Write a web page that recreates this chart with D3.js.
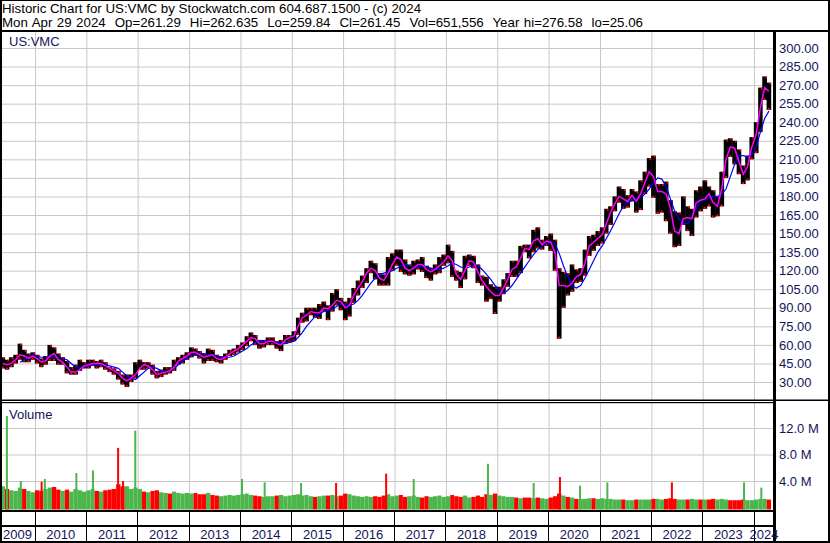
<!DOCTYPE html>
<html><head><meta charset="utf-8">
<script src="https://cdn.jsdelivr.net/npm/d3@7"></script>
<style>
html,body{margin:0;padding:0;background:#fff;}
svg{display:block;font-family:"Liberation Sans",Arial,sans-serif;}
text{white-space:pre;}
</style></head><body>
<svg id="c" width="830" height="543"></svg>
<script>
// ---------- texts ----------
const titleLine = "Historic Chart for US:VMC by Stockwatch.com 604.687.1500 - (c) 2024";
const quoteLine = "Mon Apr 29 2024  Op=261.29  Hi=262.635  Lo=259.84  Cl=261.45  Vol=651,556  Year hi=276.58  lo=25.06";
const symbolLabel = "US:VMC";
const volumeLabel = "Volume";

// ---------- axis ticks ----------
const priceTicks = [30,45,60,75,90,105,120,135,150,165,180,195,210,225,240,255,270,285,300];
const volumeTicks = [4,8,12];           // millions
const yearLabels = [2009,2010,2011,2012,2013,2014,2015,2016,2017,2018,2019,2020,2021,2022,2023,2024];

// ---------- monthly data, May 2009 .. Apr 2024 ----------
const firstMonth = "2009-05-01";
const close = [
 45,44,47,49,54,49,50,52,
 46,45,48,55,51,45,46,38,38,39,42,44,
 45,46,45,45,41,40,38,35,30,33,33,39,
 44,43,43,37,35,38,40,39,46,48,50,52,
 55,53,52,48,54,50,48,49,52,55,55,59,
 60,66,66,64,59,63,63,63,58,63,66,66,
 70,81,83,85,89,84,89,92,89,96,96,95,
 88,96,104,107,115,120,124,116,113,112,125,125,
 135,123,120,120,124,127,123,119,119,122,127,128,
 135,118,115,112,128,129,125,112,111,102,105,99,
 102,110,116,126,120,139,138,137,153,141,142,145,
 143,122,110,114,104,117,116,118,134,146,141,147,
 150,167,169,178,183,174,179,183,170,190,192,208,
 183,184,184,173,165,142,163,167,156,167,183,171,
 183,180,170,178,197,222,221,216,202,196,213,227,
 236,266,272,261];
const high = [
 50,48,50,52,61,56,53,54,
 52,49,51,60,58,53,50,47,42,44,48,46,
 48,48,47,48,46,42,41,39,36,36,36,46,
 48,46,46,44,39,40,42,42,48,50,52,54,
 58,57,55,53,57,56,52,51,53,56,57,60,
 62,67,70,68,64,64,66,66,63,64,68,68,
 71,82,86,90,90,90,93,95,92,102,105,98,
 95,98,106,112,116,122,128,126,118,117,131,134,
 137,137,129,125,128,129,131,124,122,125,131,133,
 141,136,120,119,132,133,132,125,116,115,109,107,
 107,113,118,128,128,140,141,141,153,155,145,148,
 150,145,122,119,118,125,121,122,137,148,149,152,
 155,170,172,180,188,186,181,186,184,193,200,211,
 213,190,190,192,177,168,167,180,172,170,185,188,
 193,188,185,180,200,226,227,225,218,205,213,228,
 240,268,277,272];
const low = [
 41,40,42,45,48,46,46,48,
 45,42,44,47,47,44,44,37,36,36,39,41,
 41,43,41,42,40,38,36,32,28,26,30,33,
 40,40,41,36,33,34,36,37,39,44,45,48,
 50,51,49,45,47,47,46,45,48,51,52,54,
 56,59,63,60,57,58,60,60,57,55,61,62,
 63,68,78,79,84,82,81,87,80,87,92,88,
 80,83,94,100,106,110,118,113,108,108,108,120,
 124,119,117,116,117,121,119,114,112,117,118,124,
 126,115,112,106,113,124,122,110,108,95,97,85,
 95,101,107,115,115,118,135,130,135,138,137,140,
 136,120,65,90,100,103,110,111,116,132,136,140,
 142,150,157,168,175,170,171,176,167,169,182,188,
 179,166,167,160,150,139,140,157,152,148,163,168,
 170,172,163,164,172,195,212,206,198,190,193,210,
 215,232,258,250];
// magenta (fast) average line
const maFast = [
 45,44,45,48,52,51,49,51,
 49,46,47,51,53,48,46,42,38,38,40,43,
 44,45,45,45,43,41,39,37,33,31,33,36,
 41,44,43,40,36,37,38,39,42,47,49,51,
 54,54,52,50,51,52,49,48,50,53,55,57,
 60,63,66,65,61,61,63,63,61,60,64,66,
 67,75,82,84,87,86,86,90,89,92,96,95,
 90,92,100,106,111,118,122,120,114,112,118,125,
 131,129,122,120,122,125,125,121,119,121,124,127,
 132,128,117,113,120,128,127,119,112,107,103,100,
 100,106,113,121,123,130,138,137,144,146,141,144,
 143,135,108,108,107,110,115,117,126,140,143,146,
 149,158,167,174,180,178,176,181,176,182,191,200,
 196,184,184,182,170,152,150,162,163,162,175,177,
 178,182,175,172,186,210,220,219,208,198,204,220,
 230,252,268,265];
// blue (slow) average line
const maSlow = [
 null,null,null,null,46,48,50,52,
 51,50,50,50,50,50,49,48,45,42,41,42,
 43,44,44,44,44,43,42,41,38,35,33,32,
 35,38,41,42,41,39,38,39,41,44,47,49,
 51,52,53,53,52,52,51,50,50,50,51,53,
 55,57,60,62,63,63,63,63,62,61,61,62,
 63,66,70,75,79,83,85,87,88,89,91,93,
 93,92,93,96,100,105,110,114,117,118,119,120,
 122,124,125,124,123,123,123,123,122,121,121,122,
 124,126,125,123,122,123,124,124,121,117,113,108,
 104,102,104,108,113,118,123,128,133,137,140,142,
 143,142,134,124,115,108,106,108,114,121,128,135,
 140,146,152,159,166,172,175,177,178,179,182,186,
 191,195,194,188,178,168,162,158,158,163,170,177,
 177,179,180,180,182,186,196,206,213,213,212,214,
 220,232,243,249];
// typical daily volume per month, millions
const volume = [
 3.2,2.8,2.6,2.5,3.0,2.8,2.5,2.3,
 2.6,2.5,2.8,3.0,3.1,2.7,2.5,2.7,2.4,2.8,2.6,2.4,
 2.6,2.8,2.5,2.4,2.6,2.7,2.8,3.5,3.2,3.2,2.8,3.0,
 2.8,2.4,2.3,2.5,2.6,2.3,2.2,2.1,2.4,2.2,2.1,2.2,
 2.1,2.2,2.0,2.0,2.2,1.9,1.8,1.7,1.8,1.9,1.8,1.9,
 2.0,2.1,1.9,1.8,1.7,1.6,1.7,1.7,1.8,1.9,1.7,1.8,
 1.9,2.0,1.8,1.9,1.7,1.6,1.7,1.8,1.8,1.9,1.7,1.8,
 2.1,2.0,1.8,1.7,1.6,1.7,1.6,1.7,1.6,1.8,2.0,1.7,
 1.8,1.9,1.6,1.7,1.8,1.6,1.5,1.7,1.6,1.7,1.8,1.6,
 1.7,1.9,1.7,1.6,1.8,1.5,1.6,1.8,1.6,2.0,1.9,2.1,
 1.8,1.7,1.6,1.6,1.5,1.4,1.5,1.5,1.4,1.5,1.4,1.3,
 1.5,1.7,2.1,1.8,1.6,1.5,1.3,1.3,1.3,1.4,1.4,1.3,
 1.4,1.3,1.3,1.2,1.2,1.2,1.1,1.1,1.2,1.2,1.2,1.2,
 1.3,1.3,1.2,1.3,1.4,1.3,1.2,1.2,1.2,1.3,1.2,1.2,
 1.2,1.2,1.3,1.2,1.3,1.2,1.1,1.1,1.1,1.2,1.1,1.1,
 1.2,1.3,1.3,1.2];
// single-day volume spikes
const spikeDates = ["2009-06-08","2009-09-15","2010-02-10","2010-03-05","2010-10-15","2011-02-10","2011-08-08","2011-09-12","2011-12-08",
                    "2014-01-05","2014-06-15","2015-03-01","2015-11-05","2016-10-26","2017-05-10","2018-10-20","2019-09-10","2020-03-15","2020-08-05","2021-02-15","2022-05-20","2023-10-15","2024-02-15"];
const spikeVols  = [13.8,4.0,3.9,4.3,5.2,5.6,9.0,4.0,11.6,
                    4.3,3.8,3.7,3.7,5.1,4.3,6.6,3.7,4.6,3.3,3.8,3.8,3.8,3.0];
const spikeUp    = [true,true,false,true,true,true,false,false,true,
                    true,true,true,false,false,true,true,true,false,true,true,false,true,true];

// ---------- drawing ----------
const W = 830, H = 543, axisX = 774;
const svg = d3.select("#c");
svg.append("rect").attr("width", W).attr("height", H).attr("fill", "#fff");

const parse = d3.timeParse("%Y-%m-%d");
const start = parse(firstMonth);
const months = close.map((_, i) => d3.timeMonth.offset(start, i));
const monthEnd = d => d3.timeMonth.offset(d, 1);
const midMonth = d => new Date((+d + +monthEnd(d)) / 2);

const x = d3.scaleTime().domain([new Date(2010,0,1), new Date(2024,0,1)]).range([35, 754]);
const y = d3.scaleLinear().domain([30, 300]).range([382, 48]);
const yv = d3.scaleLinear().domain([0, 12]).range([507.5, 428]);

const defs = svg.append("defs");
defs.append("clipPath").attr("id","cp").append("rect").attr("x",0).attr("y",32).attr("width",axisX-1).attr("height",368);
defs.append("clipPath").attr("id","cv").append("rect").attr("x",0).attr("y",403).attr("width",axisX-1).attr("height",107);

const gridColor = "#c8c8c8";
const yearTicks = d3.timeYear.range(new Date(2010,0,1), new Date(2024,1,1));

// price panel grid
const gpx = svg.append("g").attr("transform","translate(0,400)")
  .call(d3.axisBottom(x).tickValues(yearTicks).tickSize(-368).tickFormat(""));
gpx.select(".domain").remove(); gpx.selectAll("line").attr("stroke", gridColor);
const gpy = svg.append("g").attr("transform",`translate(${axisX},0)`)
  .call(d3.axisLeft(y).tickValues(priceTicks).tickSize(axisX).tickFormat(""));
gpy.select(".domain").remove(); gpy.selectAll("line").attr("stroke", gridColor);

// volume panel grid
const gvx = svg.append("g").attr("transform","translate(0,510)")
  .call(d3.axisBottom(x).tickValues(yearTicks).tickSize(-107).tickFormat(""));
gvx.select(".domain").remove(); gvx.selectAll("line").attr("stroke", gridColor);
const gvy = svg.append("g").attr("transform",`translate(${axisX},0)`)
  .call(d3.axisLeft(yv).tickValues(volumeTicks).tickSize(axisX).tickFormat(""));
gvy.select(".domain").remove(); gvy.selectAll("line").attr("stroke", gridColor);

// price bars
const pg = svg.append("g").attr("clip-path","url(#cp)");
pg.selectAll("rect.bar").data(months).join("rect").attr("class","bar")
  .attr("x", d => x(d) - 0.2).attr("width", d => x(monthEnd(d)) - x(d) + 0.4)
  .attr("y", (d,i) => y(high[i])).attr("height", (d,i) => y(low[i]) - y(high[i]))
  .attr("fill", "#000");
pg.selectAll("rect.rl").data(months).join("rect").attr("class","rl")
  .attr("x", d => x(d) + 1).attr("width", 2)
  .attr("y", (d,i) => y(low[i]) - 2).attr("height", 2).attr("fill", "#ff0000");
pg.selectAll("rect.rh").data(months).join("rect").attr("class","rh")
  .attr("x", d => x(d) + 2.5).attr("width", 1.5)
  .attr("y", (d,i) => y(high[i])).attr("height", 2).attr("fill", "#ff0000");

const slowLine = d3.line().defined((d,i) => maSlow[i] != null)
  .x(d => x(midMonth(d))).y((d,i) => y(maSlow[i]));
pg.append("path").datum(months).attr("d", slowLine)
  .attr("fill","none").attr("stroke","#0000ff").attr("stroke-width",1.2);
const fastLine = d3.line().x(d => x(midMonth(d))).y((d,i) => y(maFast[i]));
pg.append("path").datum(months).attr("d", fastLine)
  .attr("fill","none").attr("stroke","#ff00ff").attr("stroke-width",1.5);

// volume bars
const upColor = "#4cb64c", downColor = "#ff0000";
const vg = svg.append("g").attr("clip-path","url(#cv)");
vg.selectAll("rect.v").data(months).join("rect").attr("class","v")
  .attr("x", d => x(d)).attr("width", d => x(monthEnd(d)) - x(d))
  .attr("y", (d,i) => yv(volume[i])).attr("height", (d,i) => 509.5 - yv(volume[i]))
  .attr("fill", (d,i) => (i === 0 || close[i] >= close[i-1]) ? upColor : downColor);
vg.selectAll("rect.s").data(spikeDates).join("rect").attr("class","s")
  .attr("x", d => x(parse(d))).attr("width", 2)
  .attr("y", (d,i) => yv(spikeVols[i])).attr("height", (d,i) => 509.5 - yv(spikeVols[i]))
  .attr("fill", (d,i) => spikeUp[i] ? upColor : downColor);

// frame
const frame = svg.append("g").attr("fill","#000");
frame.append("rect").attr("x",0).attr("y",0).attr("width",W).attr("height",1);
frame.append("rect").attr("x",0).attr("y",0).attr("width",2).attr("height",H);
frame.append("rect").attr("x",W-2).attr("y",0).attr("width",2).attr("height",H);
frame.append("rect").attr("x",0).attr("y",H-2).attr("width",W).attr("height",2);
frame.append("rect").attr("x",0).attr("y",30).attr("width",W).attr("height",2);
frame.append("rect").attr("x",axisX-1).attr("y",30).attr("width",3).attr("height",H-30);
frame.append("rect").attr("x",0).attr("y",399.5).attr("width",W).attr("height",1.5);
frame.append("rect").attr("x",0).attr("y",402).attr("width",axisX).attr("height",1.2);
frame.append("rect").attr("x",0).attr("y",510).attr("width",axisX).attr("height",2);
frame.append("rect").attr("x",0).attr("y",525).attr("width",axisX).attr("height",2);

// year separators in the date bands
svg.append("g").selectAll("line").data(yearTicks).join("line")
  .attr("x1", d => Math.floor(x(d)) + 0.5).attr("x2", d => Math.floor(x(d)) + 0.5)
  .attr("y1", 511).attr("y2", 541).attr("stroke","#000");

// year labels centred in each visible year band
const axisTextColor = "#14145a";
svg.append("g").selectAll("text").data(yearLabels).join("text")
  .attr("x", d => {
    const a = Math.max(x(new Date(d,0,1)), 0), b = Math.min(x(new Date(d+1,0,1)), axisX);
    return (a + b) / 2;
  })
  .attr("y", 539).attr("text-anchor","middle").attr("font-size","13px")
  .attr("fill", axisTextColor).text(d => d);

// right axes
const ra = svg.append("g").attr("transform",`translate(${axisX},0)`)
  .call(d3.axisRight(y).tickValues(priceTicks).tickSize(0).tickPadding(5).tickFormat(d3.format(".2f")));
ra.select(".domain").remove();
ra.selectAll("text").attr("font-size","13px").attr("font-family","Liberation Sans, Arial, sans-serif").attr("fill", axisTextColor);
const va = svg.append("g").attr("transform",`translate(${axisX},0)`)
  .call(d3.axisRight(yv).tickValues(volumeTicks).tickSize(0).tickPadding(5).tickFormat(d => d3.format(".1f")(d) + " M"));
va.select(".domain").remove();
va.selectAll("text").attr("font-size","13px").attr("font-family","Liberation Sans, Arial, sans-serif").attr("fill", axisTextColor);

// header and labels
svg.append("text").attr("x",2).attr("y",13).attr("font-size","13.3px").attr("fill","#000").text(titleLine);
svg.append("text").attr("x",2).attr("y",27).attr("font-size","13.3px").attr("word-spacing","0.8px").attr("fill","#000").text(quoteLine);
svg.append("text").attr("x",9).attr("y",46).attr("font-size","13px").attr("fill","#14145a").text(symbolLabel);
svg.append("text").attr("x",9).attr("y",419).attr("font-size","13px").attr("fill","#14145a").text(volumeLabel);
</script>
</body></html>
